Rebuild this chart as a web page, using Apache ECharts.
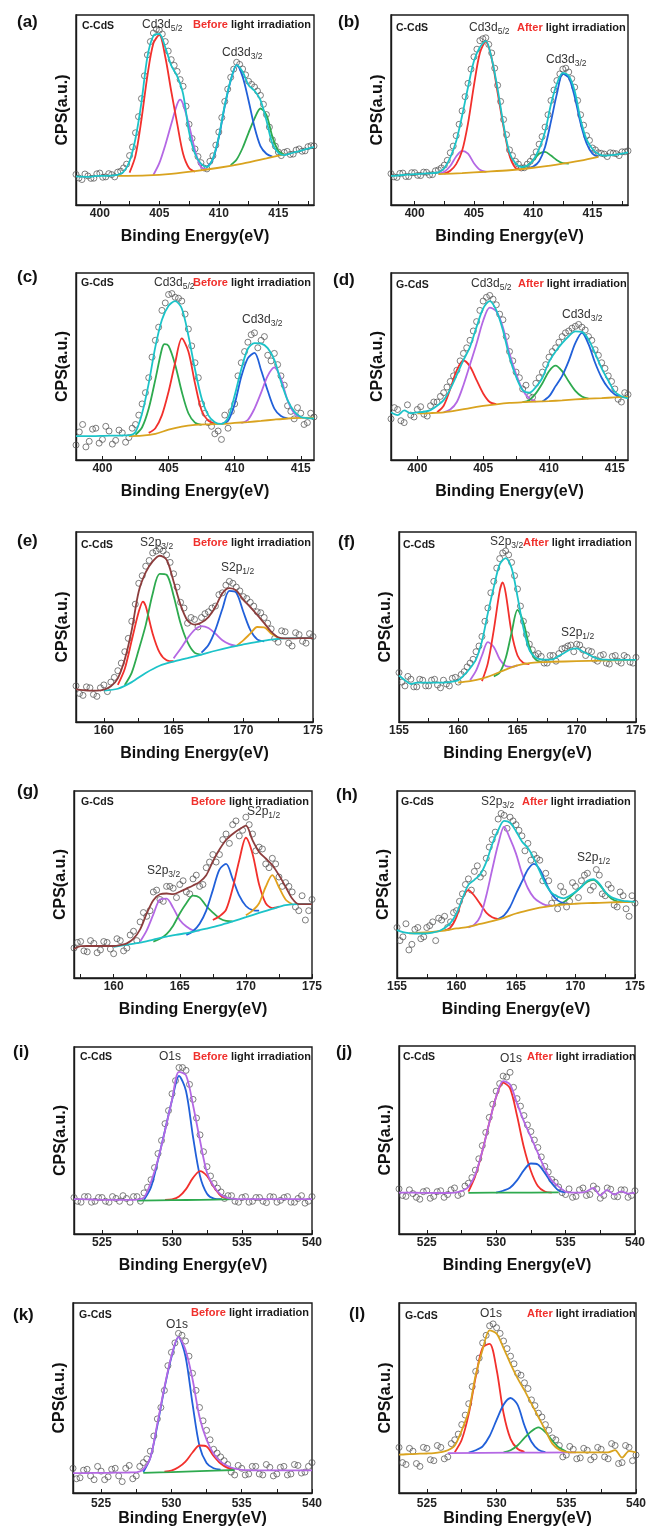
<!DOCTYPE html>
<html>
<head>
<meta charset="utf-8">
<script src="https://cdn.jsdelivr.net/npm/echarts@6/dist/echarts.min.js"></script>
<style>
  html, body { margin: 0; padding: 0; background: #fff; }
  #chart { width: 646px; height: 1533px; }
</style>
</head>
<body>
<div id="chart"></div>
<script>
// ---- energy grids (eV) ----
const cdX = [398,398.5,399,399.5,400,400.5,401,401.5,402,402.5,403,403.5,404,404.5,405,405.5,406,406.5,407,407.5,408,408.5,409,409.5,410,410.5,411,411.5,412,412.5,413,413.5,414,414.5,415,415.5,416,416.5,417,417.5,418];
const cdX2 = [398.25,398.75,399.25,399.75,400.25,400.75,401.25,401.75,402.25,402.75,403.25,403.75,404.25,404.75,405.25,405.75,406.25,406.75,407.25,407.75,408.25,408.75,409.25,409.75,410.25,410.75,411.25,411.75,412.25,412.75,413.25,413.75,414.25,414.75,415.25,415.75,416.25,416.75,417.25,417.75];
const sX = [155,155.5,156,156.5,157,157.5,158,158.5,159,159.5,160,160.5,161,161.5,162,162.5,163,163.5,164,164.5,165,165.5,166,166.5,167,167.5,168,168.5,169,169.5,170,170.5,171,171.5,172,172.5,173,173.5,174,174.5,175];
const sX2 = [155.25,155.75,156.25,156.75,157.25,157.75,158.25,158.75,159.25,159.75,160.25,160.75,161.25,161.75,162.25,162.75,163.25,163.75,164.25,164.75,165.25,165.75,166.25,166.75,167.25,167.75,168.25,168.75,169.25,169.75,170.25,170.75,171.25,171.75,172.25,172.75,173.25,173.75,174.25,174.75];
const oX = [523,523.5,524,524.5,525,525.5,526,526.5,527,527.5,528,528.5,529,529.5,530,530.5,531,531.5,532,532.5,533,533.5,534,534.5,535,535.5,536,536.5,537,537.5,538,538.5,539,539.5,540];
const oX2 = [523.25,523.75,524.25,524.75,525.25,525.75,526.25,526.75,527.25,527.75,528.25,528.75,529.25,529.75,530.25,530.75,531.25,531.75,532.25,532.75,533.25,533.75,534.25,534.75,535.25,535.75,536.25,536.75,537.25,537.75,538.25,538.75,539.25,539.75];

const cdLabels = [400, 405, 410, 415];
const cdTicks = [400, 402.5, 405, 407.5, 410, 412.5, 415, 417.5];
const sLabels = [155, 160, 165, 170, 175];
const sTicks = [155, 157.5, 160, 162.5, 165, 167.5, 170, 172.5, 175];
const oLabels = [525, 530, 535, 540];
const oTicks = [525, 527.5, 530, 532.5, 535, 537.5, 540];

// ---- (a) C-CdS Cd3d before ----
const aDots = [16.1,13.4,15.3,14.1,16.8,14.8,16,17.3,19.5,26,38,56,79,90.5,92,86,76.5,70.3,62.5,42.5,29.5,22.3,19,25.9,38.4,54.5,67.2,75.1,71.6,65.1,62.1,57.7,47.6,34.3,27.9,27.7,26.6,28.9,28.3,30.7,31.1];
const aDots2 = [14.2,16.3,14,16.4,14.6,16.5,14.8,17.8,21.5,30.5,46.5,68,86,92.5,90,81,73.5,66,52,35,25.5,19.5,23,31.5,46,61,71.5,74,68.5,63.5,60,53,41,31,26,28.2,26.8,29.5,28.5,31.2];
const aFit = [15.1,14.9,14.8,15.1,15.3,15.3,15.5,15.8,17.5,23,35,54,78,89,90,83,73.5,67.8,58.5,38.5,27,21.8,20,24.4,35.9,52.5,65.7,73.6,70.1,63.1,60.1,55.2,44.6,32.3,27.4,26.2,27.1,27.9,28.8,29.7,30.6];
const aRed = [[402.5,17],[403,26],[403.5,45],[404,68],[404.5,85],[405,89.5],[405.5,78],[406,60],[406.5,43],[407,27],[407.5,19.5],[408,17.5]];
const aPurple = [[404.5,15.8],[405,22],[405.5,31.5],[406,42.5],[406.5,53],[406.75,55.5],[407,53],[407.5,42],[408,28.8],[408.5,20],[409,18.8]];
const aBlue = [[409,19.8],[409.5,24],[410,35.5],[410.5,52],[411,65.5],[411.5,73.6],[412,67.5],[412.5,55],[413,41],[413.5,31],[414,27],[414.5,25.5]];
const aGreen = [[411,21],[411.5,24],[412,30],[412.5,38],[413,45.5],[413.5,50.8],[414,47.5],[414.5,36],[415,28.5],[415.5,26.5]];
const aBase = [[401.5,15.3],[404,15.6],[406,16.4],[408,17.8],[410,19.6],[412,21.8],[414,24.5],[415.5,26.6]];

// ---- (b) C-CdS Cd3d after ----
const bDots = [16.5,14.5,16.8,15,17,15.5,17.2,16,18.5,21,27.5,36.5,49.5,64,78,86.5,88,80,63,45,29,23,19.5,21.5,25,32,41,55,65.5,71.5,70,62,47.5,36.5,30,27.5,26.8,27.5,27,28,28.5];
const bDots2 = [14.8,16.6,15,17,15.6,17.3,15.8,18,19.5,23.5,31,42.5,57,71.5,82,87.5,84.5,72,54.5,37,26,21.5,19.6,23,28,36,47.5,60.5,69,72,66.5,55,42,34,29,27.2,25.5,27.3,26,28];
const bFit = [15.3,15.5,15.8,16,16.2,16.4,16.6,16.8,17.2,19.5,25,33.5,47,62,75.8,83,86.4,77,61,42,27.5,22,20,20.8,23.6,29.5,38.5,53,63.8,69.5,68,60,45,34.5,29.5,26.8,26,26.2,26.5,27,27.7];
const bPurple = [[402,16.2],[402.5,17.5],[403,20.5],[403.5,25.5],[404,28.5],[404.5,27],[405,22],[405.5,18.5],[406,17.5]];
const bRed = [[402.5,16.5],[403,18],[403.5,21.5],[404,28.5],[404.5,43],[405,63],[405.5,80],[406,86],[406.5,77],[407,59],[407.5,41],[408,26],[408.5,19.5],[409,18.6]];
const bGreen = [[409,19.2],[409.5,20.6],[410,23.5],[410.5,27],[411,28],[411.5,26],[412,23.6],[412.5,22],[413,21.8]];
const bBlue = [[409.5,19.5],[410,20.2],[410.5,23],[411,30.5],[411.5,44],[412,58.5],[412.5,69],[413,67],[413.5,57],[414,43],[414.5,32.5],[415,27],[415.5,25.3]];
const bBase = [[402,16.2],[404,16.8],[406,17.5],[408,18.3],[410,19.6],[412,21.3],[414,23.3],[415.5,25.3]];

// ---- (c) G-CdS Cd3d before ----
const cDots = [8,19,10,17,11,15.5,10.5,14.5,12,19,30,44,64,80,88.5,87,85,70,52,30,20,14,11,17,30,52,63,68,64,56,57,45,29,22,25,20,23];
const cDots2 = [15,7,16.5,9,18,8.5,16,9.5,17,24,36,55,71,84,89,86.5,78,61,44,25,18,15.5,24,26,45,58,67,60,66,53,51,40,26,28,19,25];
const cFit = [12.8,12.8,12.8,12.8,12.9,13,13,13.1,13.2,15,25,41,60.5,75,82.5,85,81,66.5,48.5,33,24,20.2,19.3,22.5,34.5,48.5,59.5,62.5,62.3,59.8,53.5,42,32,26,23,22.4,22.2];
const cGreen = [[402.5,13.5],[403,17.5],[403.5,27.5],[404,43],[404.5,59.5],[404.7,62],[405,61],[405.5,51],[406,36.5],[406.5,25],[407,20],[407.5,18.8]];
const cRed = [[403.5,14.5],[404,17],[404.5,24],[405,36.5],[405.5,52],[406,65],[406.5,58],[407,41],[407.5,26.5],[408,21],[408.5,19.5]];
const cBlue = [[409,19.3],[409.5,21],[410,30],[410.5,44.5],[411,54.5],[411.5,57.3],[412,48],[412.5,37],[413,27.5],[413.5,23.5],[414,22.2]];
const cPurple = [[410.5,19.8],[411,21.5],[411.5,27.5],[412,36],[412.5,45],[413,49.5],[413.5,43.5],[414,32],[414.5,25],[415,22.5]];
const cBase = [[402,12.8],[403,13],[404,14],[405,16.2],[406,17.9],[407,18.8],[408,19.1],[409,19.3],[410,19.8],[411,20.3],[412,20.9],[413,21.6],[414,22.2],[415,22.5],[416,22.6]];

// ---- (d) G-CdS Cd3d after ----
const dDots = [22,27,20,24,27,24.5,29,31,36,42,48,57,64,74,85,88,83,75,58,47,38,34,41,47,55,60,66,69,71.5,71,66,59,52,45,38,31,35];
const dDots2 = [28,21,29.5,23,28.5,23.5,31,34,39,45,53,60,69,80,87,86,78,66,53,44,40,33.5,44,51,58,63,68,70.5,72.5,69.5,64,56,49,42,32.5,36];
const dFit = [25.5,24,26.5,25,25.5,25.8,26.7,29,32,38,45.5,53.4,60.5,71.2,81,85,80,69.4,55,44.5,37.4,36,39,44,52.5,58,62.5,66.2,68.8,68.5,64.5,57,49,42.5,36.5,34,32.9];
const dRed = [[401.5,25.5],[402,29],[402.5,38],[403,48],[403.5,53.2],[404,50],[404.5,42.7],[405,35.6],[405.5,31],[406,29.9]];
const dPurple = [[402,25.5],[402.5,27],[403,31],[403.5,40],[404,51],[404.5,62.3],[405,74.5],[405.5,81.5],[406,79.5],[406.5,71],[407,57],[407.5,46],[408,37.4],[408.5,33],[409,31.2]];
const dGreen = [[408,30.9],[408.5,32],[409,35.6],[409.5,41],[410,47.5],[410.5,50.5],[411,47.5],[411.5,42],[412,37],[412.5,34],[413,32.8]];
const dBlue = [[409.5,31.3],[410,34],[410.5,39.5],[411,45],[411.5,53],[412,62.5],[412.5,68],[413,62],[413.5,52],[414,44],[414.5,38.5],[415,35],[415.5,33.8]];
const dBase = [[400,24.9],[401,25.1],[402,25.5],[403,26.5],[404,27.8],[405,28.9],[406,29.8],[407,30.5],[408,30.9],[409,31.2],[410,31.5],[411,31.9],[412,32.4],[413,32.8],[414,33.1],[415,33.5],[416,33.8]];

// ---- (e) C-CdS S2p before ----
const eDots = [null,null,null,null,null,null,19,14,18,13.5,19.5,21,27,37,53,73,82,89,91,88,78,63,52,54,55,58,61,68,74,71,66,63,58,55,49,42,47.5,40,46,41.5,45];
const eDots2 = [null,null,null,null,null,null,15,18.5,14.5,18,16,23.5,31,44,62,77,85,90,90,84,71,60,55,50,57,60,67,72,73,69,65,61,57.5,52,44,48,41.5,47,42.5,46.5];
const eFit = [null,null,null,null,null,null,17.2,16.8,16.5,16.5,17,18.8,23,33,48.5,68.7,78.7,84.5,87.5,85.4,74,61.7,53.4,51.3,52.4,55.2,60.5,67.8,70.5,69.2,64.3,60.5,56.4,52,47.6,44.6,44,44,44.1,44.1,44.1];
const eRed = [[161,19.5],[161.5,28],[162,43],[162.5,58],[162.8,63.4],[163,61],[163.5,46.5],[164,36.5],[164.5,32.5],[165,32]];
const eGreen = [[161.5,19.5],[162,26],[162.5,38],[163,51],[163.5,67.5],[164,78],[164.5,77.5],[165,66.5],[165.5,52],[166,42],[166.5,36.5],[167,35.5]];
const ePurple = [[165,33.5],[165.5,38.5],[166,44],[166.5,48.5],[167,50.5],[167.5,49.5],[168,46.5],[168.5,43],[169,41],[169.5,40]];
const eBlue = [[167,36.5],[167.5,40.5],[168,48.5],[168.5,59.5],[169,69],[169.5,68],[170,58],[170.5,48.5],[171,43.5],[171.5,42.5]];
const eOrange = [[169.5,40],[170,43],[170.5,46.5],[171,50],[171.5,49.8],[172,46.5],[172.5,44.3]];
const eBase = [[160,16.5],[161,17.5],[162,21],[163,25.8],[164,29.6],[165,31.8],[166,33.6],[167,35.5],[168,37.5],[169,39.3],[170,40.8],[171,42.2],[172,43.4],[173,44],[174,44.1],[175,44.1]];

// ---- (f) C-CdS S2p after ----
const fDots = [26,19,22.5,18.5,22,19,22.5,18,20,23,21,26.5,31,37,45,60,74,86,90,84,70,53,41,35,34.5,31,35,36,39,40.5,41,38,37.5,33,35,31,34.5,32,35,31.5,34];
const fDots2 = [21,24,18.5,22.5,19,22,19.5,22,19,23.5,25,29,33,40,53,68,81,89,88,77,61,46,38,36,31,35,32,38.5,40,37,40.5,35,37,32,35.5,30.5,35,31,34,31];
const fFit = [24.5,22,20,20.7,20.7,20.7,20.7,20.7,20.9,21.3,22,24.8,28.3,33,42.5,57.3,71,83,86.3,81,66,49.4,38,34,32.9,32.8,33,34.8,36.6,38.3,38.7,37.1,35.5,33.9,33,32.8,32.7,32.7,32.7,32.7,32.7];
const fPurple = [[161,22],[161.5,27],[162,35],[162.5,42],[163,39.5],[163.5,33],[164,29.5],[164.5,29],[165,29.8]];
const fRed = [[162,21.5],[162.5,31],[163,48.5],[163.5,69],[163.75,73.5],[164,68],[164.5,47],[165,35],[165.5,31],[166,30.5]];
const fGreen = [[163,24],[163.5,26],[164,33.5],[164.5,47],[165,59],[165.5,52.5],[166,39.7],[166.5,33],[167,31.5]];
const fBase = [[160,20.8],[161,21.5],[162,22.8],[163,25],[164,27.6],[165,29.8],[166,31],[167,31.5],[168,31.7],[170,32],[172,32.3],[175,32.7]];

// ---- (g) G-CdS S2p before ----
const gDots = [null,null,null,null,16,19.5,14,18.5,15,19,13,20,16,25,30,33,46,42,49,48,50,46,53,49,59,66,66,77,82,76,86,77,70,61,64,54,51,46,36,31,42];
const gDots2 = [null,null,null,null,19,14.5,20,13.5,19.5,15.5,21,14.5,23,20,35,36,47,41,49,43,52,45,55,50,62,62,74,72,84,79,82,68,69,59,61,49,49,38,44,36];
const gFit = [null,null,null,null,15.5,17,17.1,17.1,17.1,17.1,17.1,17.6,18.5,21,26,34.5,41.6,44.8,45.2,44.8,46.1,47.8,49.5,51.4,55,62.3,68.7,73.8,77,79.5,81.5,73.7,67.4,63.9,60.3,55,48.8,42.5,39.5,39.5,39.5];
const gPurple = [[162,19.5],[162.5,25.5],[163,34],[163.5,42],[164,42.5],[164.5,37.5],[165,31],[165.5,27.5],[166,25.5],[166.5,25.3]];
const gGreen = [[163,19.5],[163.5,21],[164,23.5],[164.5,28],[165,34.5],[165.5,40],[166,44],[166.5,43],[167,38.5],[167.5,35],[168,32],[168.5,30.5],[169,30.3]];
const gBlue = [[165.5,23],[166,25],[166.5,29],[167,36],[167.5,47],[168,58],[168.5,61],[169,53],[169.5,44],[170,38.5],[170.5,36.3],[171,36]];
const gRed = [[167.5,31],[168,33],[168.5,36.5],[169,48],[169.5,63],[170,75],[170.5,66.5],[171,50],[171.5,40],[172,37.4],[172.5,38.2]];
const gOrange = [[170,33.5],[170.5,36],[171,40],[171.5,48.8],[172,55],[172.5,48.5],[173,42],[173.5,39.5]];
const gBase = [[160,16.7],[161,17.8],[162,18.9],[163,20.5],[164,22.1],[165,23.4],[166,24.7],[167,26.4],[168,28.2],[169,30.3],[170,32.5],[171,34.8],[172,37],[173,39],[174,39.5],[175,39.5]];

// ---- (h) G-CdS S2p after ----
const hDots = [27,22,15,26,21,27,30,32,33,30,36,45,53,57,54,64,74,85,87,86,82,76,72,66,63,56,40,37,46,41,49,52,56,49,55,44,48,38,44,33,40];
const hDots2 = [20,29,18,27,22,28,20,31,27,35,41,50,47,60,56,70,78,88,80,84,79,68,63,64,52,52,43,49,38,51,43,55,47,58,45,50,39,46,37,44];
const hFit = [25.6,24.5,24,23.8,23.8,23.9,24.3,25,26.7,29.5,34.5,42.5,49.8,52.5,55.5,62,71.5,79,84,83,78.5,73,69.5,64,57,50,45.5,43.5,42.6,44,46,48.8,52,52.8,50.5,46,43.3,42,41.3,41,40.7];
const hRed = [[159,25.4],[159.5,27],[160,32.7],[160.5,42.5],[161,47],[161.5,44],[162,39.5],[162.5,35],[163,32.5],[163.5,31.5]];
const hPurple = [[161,27],[161.5,28.5],[162,33],[162.5,44],[163,58],[163.5,71.5],[164,81],[164.5,74.5],[165,66.5],[165.5,56],[166,48],[166.5,43],[167,40.5],[167.5,39],[168,38.8]];
const hBlue = [[163.5,31.5],[164,33.5],[164.5,38],[165,45],[165.5,51.5],[166,58],[166.5,61],[167,58],[167.5,51],[168,45],[168.5,41.5],[169,40],[169.5,39.6]];
const hGreen = [[168.5,39.3],[169,40.5],[169.5,43],[170,46],[170.5,48.8],[171,51.5],[171.5,52.5],[172,50],[172.5,46],[173,42.5],[173.5,41],[174,40.6]];
const hBase = [[156,23.9],[157,24.2],[158,24.7],[159,25.4],[160,26.5],[161,27.4],[162,28.9],[163,30.4],[164,32.2],[165,34.5],[166,36.2],[167,37.6],[168,38.6],[169,39.3],[170,39.7],[171,40],[172,40.2],[173,40.4],[174,40.6],[175,40.7]];

// ---- (i) C-CdS O1s before ----
const iDots = [19.5,17,20,17.5,19.5,17,19,20.5,17,20,22,29,43,59,75,89,87.5,72,53,36,27,22.5,20.5,17.5,19.5,17,19.5,17.5,20,17,19.5,17,19,16.5,20];
const iDots2 = [17.5,20,17,19.5,17.5,20,17.5,19,20,17.5,25,35.5,50,66,82,89,80,62,44,31,24.5,19,20.5,17,20,17.5,19.5,16.8,19.8,18,20,17,20.5,17.5];
const iFit = [18.6,18.6,18.5,18.4,18.3,18.3,18.2,18.2,18.2,18.4,19.5,27.8,39.8,55.2,71.7,86.7,84.9,69,50,32.7,25.3,21,19.2,18.7,18.6,18.6,18.6,18.6,18.6,18.6,18.6,18.6,18.6,18.6,18.6];
const iBlue = [[528,18.3],[528.5,25],[529,39.5],[529.5,55.5],[530,71.5],[530.5,84.5],[531,76.5],[531.5,52],[532,31],[532.5,21.5],[533,18.9],[533.5,18.6]];
const iRed = [[529.5,18.2],[530,18.5],[530.5,20],[531,24],[531.5,30],[532,33.6],[532.5,31],[533,25],[533.5,20.3],[534,18.7]];
const iBase = [[527.5,17.9],[530,18.1],[532,18.3],[534.5,18.6]];

// ---- (j) C-CdS O1s after ----
const jDots = [24,20,21.5,18.5,23,20,23,21,24.5,21.5,27,34,47,62,76,84,86,72,63,54.5,46,36,29,25,21,19.5,23.5,20.5,25.5,19,24.5,20,23.5,19.5,23];
const jDots2 = [20.5,23.5,19.5,22.5,19,22.5,19.5,23.5,20.5,25.5,30,40,54,69,80,83.5,78,68,58,50,41,33,27.5,22,24,20,24.5,21,24,20.5,23.8,19.8,23.5,20.5];
const jFit = [22,22,22,21.9,21.9,21.8,21.8,21.8,22,22.8,25,31.7,44,59,73,81.3,79.5,69.5,59.9,51.6,43.1,34.7,28.5,25.2,22.5,22,22,22.6,24.5,20.5,23.5,21,22.7,21.5,22];
const jRed = [[528,22.5],[528.5,31],[529,44],[529.5,59],[530,73],[530.5,80.5],[531,77.5],[531.5,63],[532,46],[532.5,33.5],[533,25.5],[533.5,22.6],[534,22]];
const jBlue = [[530,22],[530.5,23],[531,24.6],[531.5,28.5],[532,34],[532.5,37.5],[533,37],[533.5,32.5],[534,27],[534.5,23.2],[535,22.2]];
const jBase = [[528,21.9],[531,22],[534.5,22.1]];

// ---- (k) G-CdS O1s before ----
const kDots = [13,8,12.5,7,11.5,8.5,13,6,14.5,9,16,22,39,54,74,84,80,63,45,33,23,19,15,9.5,13,10,14,9.5,13.5,10,14,10,14.5,11,16];
const kDots2 = [7.5,12,9,14,7,12.5,9,13,7.5,14,18,30,45,67,79,83,72,54,38,28,21,17,11,14.5,9.5,14,10,15,9,13.5,9.5,15,10.5,14];
const kFit = [10.5,10.5,10.5,10.6,10.6,10.6,10.7,10.7,10.8,10.9,12.5,18.5,36.5,55.5,72,82,75.4,60,40,28,20.7,16.5,14.2,12.8,12.2,12,11.9,11.9,11.9,11.9,11.9,11.9,11.9,11.9,11.9];
const kBlue = [[528,11],[528.5,18.5],[529,35.5],[529.5,55],[530,71.5],[530.5,82],[531,72],[531.5,47],[532,24.6],[532.5,15.8],[533,13],[533.5,12.3]];
const kRed = [[529.5,11.2],[530,11.8],[530.5,13.5],[531,16.5],[531.5,21.3],[532,25],[532.5,24.5],[533,19.5],[533.5,15.5],[534,13.2],[534.5,12.4]];
const kBase = [[528,10.6],[530,11],[532,11.5],[534.5,12.1]];

// ---- (l) G-CdS O1s after ----
const lDots = [24,15,22,14,23.5,17,24,19,28,36,47,64,79,88,87,80,72,63,58,49,42,36,29,25,20,23,18.5,22.5,19,23,18,25,16,24,20];
const lDots2 = [16,23.5,15.5,24,17.5,25,18,26,31,41,56,71,83,89,84,76,68,62,55,46,40,33,28,19,24.5,18,23.5,17.5,24,19,26,15.5,25,17];
const lFit = [20.2,20.4,20.5,20.7,20.8,21,21.5,22.5,25,33,43,62,75.5,85.6,83.9,76.3,68,60.5,54,47,40,33,26,22.8,21.7,21.4,21.4,21.4,21.4,21.4,21.4,22.6,18.6,22,21.4];
const lRed = [[527,21.5],[527.5,28],[528,41.5],[528.5,61],[529,76.5],[529.5,78.5],[530,65],[530.5,42],[531,28.5],[531.5,23.3],[532,21.7]];
const lBlue = [[528,21.3],[528.5,22.5],[529,24.6],[529.5,30],[530,38.5],[530.5,46.5],[531,50],[531.5,46.5],[532,35.5],[532.5,27],[533,22.8],[533.5,21.5]];
const lGreen = [[530.5,21.4],[531,22.5],[531.5,25],[532,29],[532.5,32.5],[533,34.5],[533.5,32],[534,27.5],[534.5,23.8],[535,21.8]];
const lBase = [[526.5,21],[531,21.2],[535.7,21.4]];

// ---- styling ----
const FONT = 'Arial, "Liberation Sans", Helvetica, sans-serif';
const COL = {
  cyan: '#1cc3c8', red: '#f2302c', purple: '#b468e4', blue: '#2160d9',
  green: '#2eaa4f', gold: '#d9a31f', brown: '#8c3d3d', orange: '#e2a11d'
};

const panels = [
  { tag: '(a)', tagAt: [17, 22], box: [76, 15, 238, 190], range: [398, 418], xs: cdX, xs2: cdX2, labels: cdLabels, ticks: cdTicks,
    dots: aDots, dots2: aDots2, fit: aFit, fitColor: COL.cyan, base: aBase, baseColor: COL.gold,
    peaks: [[aPurple, COL.purple], [aGreen, COL.green], [aBlue, COL.blue], [aRed, COL.red]],
    sample: ['C-CdS', 82, 26], stage: ['Before', 193, 25], names: [['Cd3d', '5/2', 142, 25], ['Cd3d', '3/2', 222, 53]] },
  { tag: '(b)', tagAt: [338, 22], box: [391, 15, 237, 190], range: [398, 418], xs: cdX, xs2: cdX2, labels: cdLabels, ticks: cdTicks,
    dots: bDots, dots2: bDots2, fit: bFit, fitColor: COL.cyan, base: bBase, baseColor: COL.gold,
    peaks: [[bPurple, COL.purple], [bGreen, COL.green], [bBlue, COL.blue], [bRed, COL.red]],
    sample: ['C-CdS', 396, 28], stage: ['After', 517, 28], names: [['Cd3d', '5/2', 469, 28], ['Cd3d', '3/2', 546, 60]] },
  { tag: '(c)', tagAt: [17, 277], box: [76, 273, 238, 187], range: [398, 416], xs: cdX, xs2: cdX2, labels: cdLabels, ticks: cdTicks,
    dots: cDots, dots2: cDots2, fit: cFit, fitColor: COL.cyan, base: cBase, baseColor: COL.gold,
    peaks: [[cGreen, COL.green], [cRed, COL.red], [cBlue, COL.blue], [cPurple, COL.purple]],
    sample: ['G-CdS', 81, 283], stage: ['Before', 193, 283], names: [['Cd3d', '5/2', 154, 283], ['Cd3d', '3/2', 242, 320]] },
  { tag: '(d)', tagAt: [333, 280], box: [391, 273, 237, 187], range: [398, 416], xs: cdX, xs2: cdX2, labels: cdLabels, ticks: cdTicks,
    dots: dDots, dots2: dDots2, fit: dFit, fitColor: COL.cyan, base: dBase, baseColor: COL.gold,
    peaks: [[dRed, COL.red], [dPurple, COL.purple], [dGreen, COL.green], [dBlue, COL.blue]],
    sample: ['G-CdS', 396, 285], stage: ['After', 518, 284], names: [['Cd3d', '5/2', 471, 284], ['Cd3d', '3/2', 562, 315]] },
  { tag: '(e)', tagAt: [17, 541], box: [76, 532, 237, 190], range: [158, 175], xs: sX, xs2: sX2, labels: sLabels, ticks: sTicks,
    dots: eDots, dots2: eDots2, fit: eFit, fitColor: COL.brown, base: eBase, baseColor: COL.cyan,
    peaks: [[eRed, COL.red], [eGreen, COL.green], [ePurple, COL.purple], [eBlue, COL.blue], [eOrange, COL.orange]],
    sample: ['C-CdS', 81, 545], stage: ['Before', 193, 543], names: [['S2p', '3/2', 140, 543], ['S2p', '1/2', 221, 568]] },
  { tag: '(f)', tagAt: [338, 542], box: [399, 532, 237, 190], range: [155, 175], xs: sX, xs2: sX2, labels: sLabels, ticks: sTicks,
    dots: fDots, dots2: fDots2, fit: fFit, fitColor: COL.cyan, base: fBase, baseColor: COL.gold,
    peaks: [[fPurple, COL.purple], [fRed, COL.red], [fGreen, COL.green]],
    sample: ['C-CdS', 403, 545], stage: ['After', 523, 543], names: [['S2p', '3/2', 490, 542], ['S2p', '1/2', 561, 633]] },
  { tag: '(g)', tagAt: [17, 791], box: [74, 791, 238, 187], range: [157, 175], xs: sX, xs2: sX2, labels: sLabels, ticks: sTicks,
    dots: gDots, dots2: gDots2, fit: gFit, fitColor: COL.brown, base: gBase, baseColor: COL.cyan,
    peaks: [[gPurple, COL.purple], [gGreen, COL.green], [gBlue, COL.blue], [gRed, COL.red], [gOrange, COL.orange]],
    sample: ['G-CdS', 81, 802], stage: ['Before', 191, 802], names: [['S2p', '1/2', 247, 812], ['S2p', '3/2', 147, 871]] },
  { tag: '(h)', tagAt: [336, 795], box: [397, 791, 238, 187], range: [155, 175], xs: sX, xs2: sX2, labels: sLabels, ticks: sTicks,
    dots: hDots, dots2: hDots2, fit: hFit, fitColor: COL.cyan, base: hBase, baseColor: COL.gold,
    peaks: [[hGreen, COL.green], [hRed, COL.red], [hPurple, COL.purple], [hBlue, COL.blue]],
    sample: ['G-CdS', 401, 802], stage: ['After', 522, 802], names: [['S2p', '3/2', 481, 802], ['S2p', '1/2', 577, 858]] },
  { tag: '(i)', tagAt: [13, 1052], box: [74, 1047, 238, 187], range: [523, 540], xs: oX, xs2: oX2, labels: oLabels, ticks: oTicks,
    dots: iDots, dots2: iDots2, fit: iFit, fitColor: COL.purple, base: iBase, baseColor: COL.green,
    peaks: [[iBlue, COL.blue], [iRed, COL.red]],
    sample: ['C-CdS', 80, 1057], stage: ['Before', 193, 1057], names: [['O1s', '', 159, 1057]] },
  { tag: '(j)', tagAt: [336, 1052], box: [399, 1046, 236, 188], range: [523, 540], xs: oX, xs2: oX2, labels: oLabels, ticks: oTicks,
    dots: jDots, dots2: jDots2, fit: jFit, fitColor: COL.purple, base: jBase, baseColor: COL.green,
    peaks: [[jRed, COL.red], [jBlue, COL.blue]],
    sample: ['C-CdS', 403, 1057], stage: ['After', 527, 1057], names: [['O1s', '', 500, 1059]] },
  { tag: '(k)', tagAt: [13, 1315], box: [73, 1303, 239, 190], range: [523, 540], xs: oX, xs2: oX2, labels: oLabels, ticks: oTicks,
    dots: kDots, dots2: kDots2, fit: kFit, fitColor: COL.purple, base: kBase, baseColor: COL.green,
    peaks: [[kBlue, COL.blue], [kRed, COL.red]], nameGap: 15, labelMargin: 5,
    sample: ['G-CdS', 79, 1315], stage: ['Before', 191, 1313], names: [['O1s', '', 166, 1325]] },
  { tag: '(l)', tagAt: [349, 1314], box: [399, 1303, 237, 190], range: [523, 540], xs: oX, xs2: oX2, labels: oLabels, ticks: oTicks,
    dots: lDots, dots2: lDots2, fit: lFit, fitColor: COL.gold, base: lBase, baseColor: COL.purple,
    peaks: [[lRed, COL.red], [lBlue, COL.blue], [lGreen, COL.green]], nameGap: 15, labelMargin: 5,
    sample: ['G-CdS', 405, 1316], stage: ['After', 527, 1314], names: [['O1s', '', 480, 1314]] }
];

function zip(xs, ys) {
  return ys.map((y, i) => [xs[i], y]);
}

function curve(i, data, color, z) {
  return {
    type: 'line', xAxisIndex: i, yAxisIndex: i, data: data,
    showSymbol: false, symbol: 'none', smooth: 0.3, silent: true,
    lineStyle: { color: color, width: 1.8 }, z: z,
    emphasis: { disabled: true }, animation: false
  };
}

function dotSeries(i, data) {
  return {
    type: 'scatter', xAxisIndex: i, yAxisIndex: i, data: data,
    symbol: 'circle', symbolSize: 6, silent: true, z: 1, animation: false,
    itemStyle: { color: 'rgba(255,255,255,0)', borderColor: '#4d4d4d', borderWidth: 0.9 },
    emphasis: { disabled: true }
  };
}

const RICH = {
  n: { fontFamily: FONT, fontSize: 12, fill: '#333', lineHeight: 16 },
  s: { fontFamily: FONT, fontSize: 8.5, fill: '#333', verticalAlign: 'bottom' },
  r: { fontFamily: FONT, fontSize: 11, fontWeight: 'bold', fill: '#f0302c' },
  b: { fontFamily: FONT, fontSize: 11, fontWeight: 'bold', fill: '#1a1a1a' }
};

function txt(x, y, text, extra) {
  return {
    type: 'text', x: x, y: y, silent: true, z: 100,
    style: Object.assign({ text: text, align: 'left', verticalAlign: 'middle', rich: RICH }, extra || {})
  };
}

const grids = [], xAxes = [], yAxes = [], series = [], graphics = [];

panels.forEach((p, i) => {
  grids.push({
    left: p.box[0], top: p.box[1], width: p.box[2], height: p.box[3],
    show: true, borderColor: '#1a1a1a', borderWidth: 1.4, backgroundColor: '#fff',
    containLabel: false, outerBoundsMode: 'none'
  });
  xAxes.push({
    gridIndex: i, type: 'value', min: p.range[0], max: p.range[1],
    name: 'Binding Energy(eV)', nameLocation: 'middle', nameGap: p.nameGap || 24,
    nameTextStyle: { fontFamily: FONT, fontWeight: 'bold', fontSize: 16, color: '#111' },
    axisLine: { show: true, onZero: false, lineStyle: { color: '#1a1a1a', width: 1.4 } },
    axisTick: {
      show: true, inside: true, length: 4,
      customValues: p.ticks.filter(v => v >= p.range[0] && v <= p.range[1]),
      lineStyle: { color: '#1a1a1a', width: 1 }
    },
    axisLabel: {
      show: true, customValues: p.labels, margin: p.labelMargin || 3,
      fontFamily: FONT, fontWeight: 'bold', fontSize: 12, color: '#222'
    },
    splitLine: { show: false }
  });
  yAxes.push({
    gridIndex: i, type: 'value', min: 0, max: 100,
    name: 'CPS(a.u.)', nameLocation: 'middle', nameGap: 5, nameRotate: 90,
    nameTextStyle: { fontFamily: FONT, fontWeight: 'bold', fontSize: 16, color: '#111' },
    axisLine: { show: true, lineStyle: { color: '#1a1a1a', width: 1.4 } },
    axisTick: { show: false }, axisLabel: { show: false }, splitLine: { show: false }
  });

  series.push(dotSeries(i, zip(p.xs, p.dots)));
  series.push(dotSeries(i, zip(p.xs2, p.dots2)));
  p.peaks.forEach(pk => series.push(curve(i, pk[0], pk[1], 3)));
  series.push(curve(i, p.base, p.baseColor, 4));
  series.push(curve(i, zip(p.xs, p.fit), p.fitColor, 5));

  graphics.push(txt(p.tagAt[0], p.tagAt[1], p.tag,
    { rich: null, font: 'bold 17px ' + FONT, fill: '#111' }));
  graphics.push(txt(p.sample[1], p.sample[2], p.sample[0],
    { rich: null, font: 'bold 10.5px ' + FONT, fill: '#1a1a1a' }));
  graphics.push(txt(p.stage[1], p.stage[2], '{r|' + p.stage[0] + '}{b| light irradiation}'));
  p.names.forEach(nm => {
    const t = nm[1] ? '{n|' + nm[0] + '}{s|' + nm[1] + '}' : '{n|' + nm[0] + '}';
    graphics.push(txt(nm[2], nm[3], t));
  });
});

const chart = echarts.init(document.getElementById('chart'), null, { renderer: 'canvas' });
chart.setOption({
  animation: false,
  backgroundColor: '#fff',
  grid: grids,
  xAxis: xAxes,
  yAxis: yAxes,
  series: series,
  graphic: graphics
});
</script>
</body>
</html>
